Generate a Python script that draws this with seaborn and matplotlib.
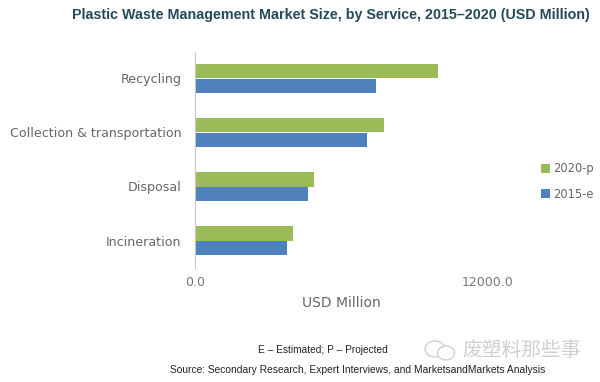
import matplotlib
matplotlib.use("Agg")
import matplotlib.pyplot as plt
import pandas as pd
import seaborn as sns
from matplotlib.patches import Ellipse

services = ["Recycling", "Collection & transportation", "Disposal", "Incineration"]
values_2020 = [9940, 7720, 4870, 3990]
values_2015 = [7390, 7050, 4620, 3770]
x_ticks = [0, 12000]
x_tick_labels = ["0.0", "12000.0"]

df = pd.DataFrame({
    "Service": services * 2,
    "Year": ["2020-p"] * 4 + ["2015-e"] * 4,
    "Value": values_2020 + values_2015,
})

sns.set_style("white")
plt.rcParams["font.family"] = ["DejaVu Sans"]

fig = plt.figure(figsize=(6, 3.82), dpi=100)
ax = fig.add_axes([195.5 / 600, 1 - 267.5 / 382, 292.5 / 600, 216 / 382])

sns.barplot(
    data=df, y="Service", x="Value", hue="Year", order=services,
    hue_order=["2020-p", "2015-e"], orient="h", width=0.52, gap=0, linewidth=0,
    palette={"2020-p": "#9bbb59", "2015-e": "#4f81bd"}, saturation=1, ax=ax,
)

ax.set_xlim(0, 12000)
ax.set_xticks(x_ticks)
ax.set_xticklabels(x_tick_labels, fontsize=9, color="#777777")
ax.set_xlabel("USD Million", fontsize=10, color="#666666", labelpad=5)
ax.set_ylabel("")
ax.tick_params(axis="y", labelsize=9.1, labelcolor="#666666", length=0, pad=10)
ax.tick_params(axis="x", length=0, pad=6)
sns.despine(ax=ax, top=True, right=True, bottom=True)
ax.spines["left"].set_color("#c8c8c8")
ax.spines["left"].set_linewidth(0.8)

ax.legend(
    loc="center left", bbox_to_anchor=(540.5 / 600, 1 - 181.5 / 382),
    bbox_transform=fig.transFigure, frameon=False, fontsize=8.3,
    labelcolor="#666666", handlelength=0.8, handleheight=0.8,
    handletextpad=0.3, labelspacing=1.05, borderpad=0, borderaxespad=0,
)

fig.text(72 / 600, 1 - 15 / 382, "Plastic Waste Management Market Size, by Service, 2015–2020 (USD Million)",
         family="Liberation Sans", fontsize=10.3, fontweight="bold",
         color="#244a5a", va="center", ha="left")
fig.text(258 / 600, 1 - 350 / 382, "E – Estimated; P – Projected",
         family="Liberation Sans", fontsize=7.3, color="#222222", va="center", ha="left")
fig.text(170 / 600, 1 - 370 / 382, "Source: Secondary Research, Expert Interviews, and MarketsandMarkets Analysis",
         family="Liberation Sans", fontsize=7.4, color="#222222", va="center", ha="left")

# watermark
fig.text(462 / 600, 1 - 351 / 382, "废塑料那些事",
         family=["Noto Sans CJK SC", "DejaVu Sans"], fontsize=14.2, color="#cfcfcf", va="center", ha="left")
fig.add_artist(Ellipse((435 / 600, 1 - 349 / 382), 20 / 600, 16 / 382, transform=fig.transFigure,
                       fill=False, ec="#d0d0d0", lw=1))
fig.add_artist(Ellipse((446 / 600, 1 - 353 / 382), 17 / 600, 14 / 382, transform=fig.transFigure,
                       fc="white", ec="#d0d0d0", lw=1))

fig.savefig("out.png", dpi=100)
